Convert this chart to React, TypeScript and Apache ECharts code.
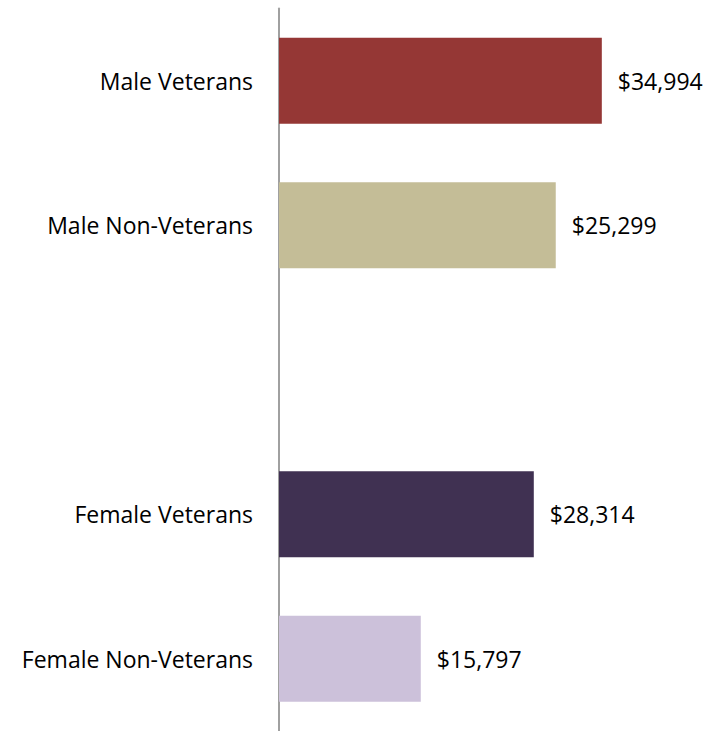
import React, { useEffect, useRef } from "react";
import * as echarts from "echarts";

const categories = ["Male Veterans", "Male Non-Veterans", "", "Female Veterans", "Female Non-Veterans"];
// bar lengths as drawn in the picture (dollars)
const barValues: (number | null)[] = [34994, 30000, null, 27620, 15370];
// figures printed next to the bars
const valueLabels = ["$34,994", "$25,299", "", "$28,314", "$15,797"];
const barColors = ["#953735", "#C4BD97", "", "#403152", "#CCC1DA"];

const FONT = "Open Sans";

export default function App() {
  const ref = useRef<HTMLDivElement>(null);
  useEffect(() => {
    if (!ref.current) return;
    const chart = echarts.init(ref.current, null, { renderer: "svg" });
    chart.setOption({
      animation: false,
      backgroundColor: "#ffffff",
      grid: { left: 279, top: 8.5, width: 369, height: 725, containLabel: false },
      xAxis: {
        type: "value",
        min: 0,
        max: 40000,
        show: false,
      },
      yAxis: {
        type: "category",
        inverse: true,
        data: categories,
        axisLine: { show: true, lineStyle: { color: "#A0A0A0", width: 2 } },
        axisTick: { show: false },
        axisLabel: { color: "#000000", fontFamily: FONT, fontSize: 23, margin: 26 },
      },
      series: [
        {
          type: "bar",
          barWidth: 86,
          data: barValues.map((v, i) => ({
            value: v,
            itemStyle: { color: barColors[i] },
            label: {
              show: v !== null,
              position: "right",
              distance: 16,
              formatter: () => valueLabels[i],
              color: "#000000",
              fontFamily: FONT,
              fontSize: 23,
            },
          })),
        },
      ],
    });
    return () => chart.dispose();
  }, []);
  return (
    <div
      ref={ref}
      style={{ position: "fixed", left: 0, top: 0, width: 716, height: 731, background: "#fff" }}
    />
  );
}
